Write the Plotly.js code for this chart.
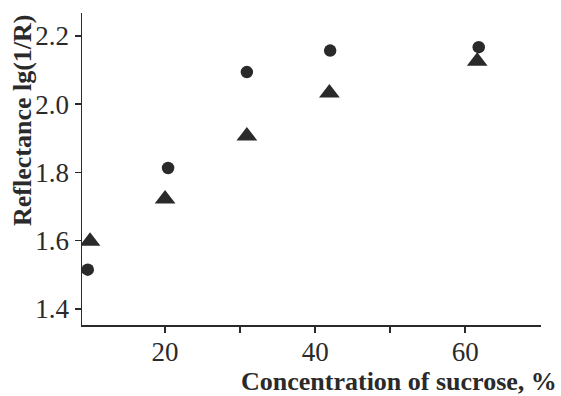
<!DOCTYPE html>
<html><head><meta charset="utf-8">
<script src="https://cdn.plot.ly/plotly-3.0.1.min.js"></script>
<style>html,body{margin:0;padding:0;background:#fff}</style>
</head><body><div id="chart" style="width:561px;height:396px"></div>
<script>
const circleX = [9.7, 20.4, 30.9, 42.0, 61.8];
const circleY = [1.515, 1.813, 2.094, 2.157, 2.167];
const triX = [10.0, 20.0, 30.9, 41.9, 61.6];
const triY = [1.598, 1.722, 1.907, 2.033, 2.126];
const xTickVals = [20, 30, 40, 50, 60];
const xTickText = ["20", "", "40", "", "60"];
const yTickVals = [1.4, 1.6, 1.8, 2.0, 2.2];
const yTickText = ["1.4", "1.6", "1.8", "2.0", "2.2"];
const xTitle = "Concentration of sucrose, %";
const yTitle = "Reflectance lg(1/R)";

const font = "'Liberation Serif', 'Times New Roman', serif";
const ink = "#2a2a2a";
const data = [
  {x: circleX, y: circleY, mode: "markers", type: "scatter",
   marker: {symbol: "circle", size: 12.5, color: ink}},
  {x: triX, y: triY, mode: "markers", type: "scatter",
   marker: {symbol: "triangle-up", size: 18, color: ink}}
];
const layout = {
  width: 561, height: 396,
  margin: {l: 82, r: 20, t: 13, b: 71},
  showlegend: false,
  paper_bgcolor: "#fff", plot_bgcolor: "#fff",
  font: {family: font, color: ink, size: 27},
  xaxis: {range: [8.93, 70.1], tickvals: xTickVals, ticktext: xTickText,
    ticks: "outside", ticklen: 6, tickwidth: 1.5, tickcolor: ink, ticklabelstandoff: -4,
    showline: true, linecolor: ink, linewidth: 1.5, showgrid: false, zeroline: false,
    tickfont: {family: font, size: 27, color: ink}},
  yaxis: {range: [1.353, 2.267], tickvals: yTickVals, ticktext: yTickText,
    ticks: "outside", ticklen: 6, tickwidth: 1.5, tickcolor: ink,
    showline: true, linecolor: ink, linewidth: 1.5, showgrid: false, zeroline: false,
    tickfont: {family: font, size: 27, color: ink}},
  annotations: [
    {text: "<b>" + xTitle + "</b>", xref: "paper", yref: "paper",
     x: 1.04, y: 0, xanchor: "right", yanchor: "middle", yshift: -56,
     showarrow: false, font: {family: font, size: 26, color: ink}},
    {text: "<b>" + yTitle + "</b>", xref: "paper", yref: "paper",
     x: 0, y: 0.657, xanchor: "center", yanchor: "middle", xshift: -60, textangle: -90,
     showarrow: false, font: {family: font, size: 26, color: ink}}
  ]
};
Plotly.newPlot("chart", data, layout, {displayModeBar: false, staticPlot: true});
</script></body></html>
